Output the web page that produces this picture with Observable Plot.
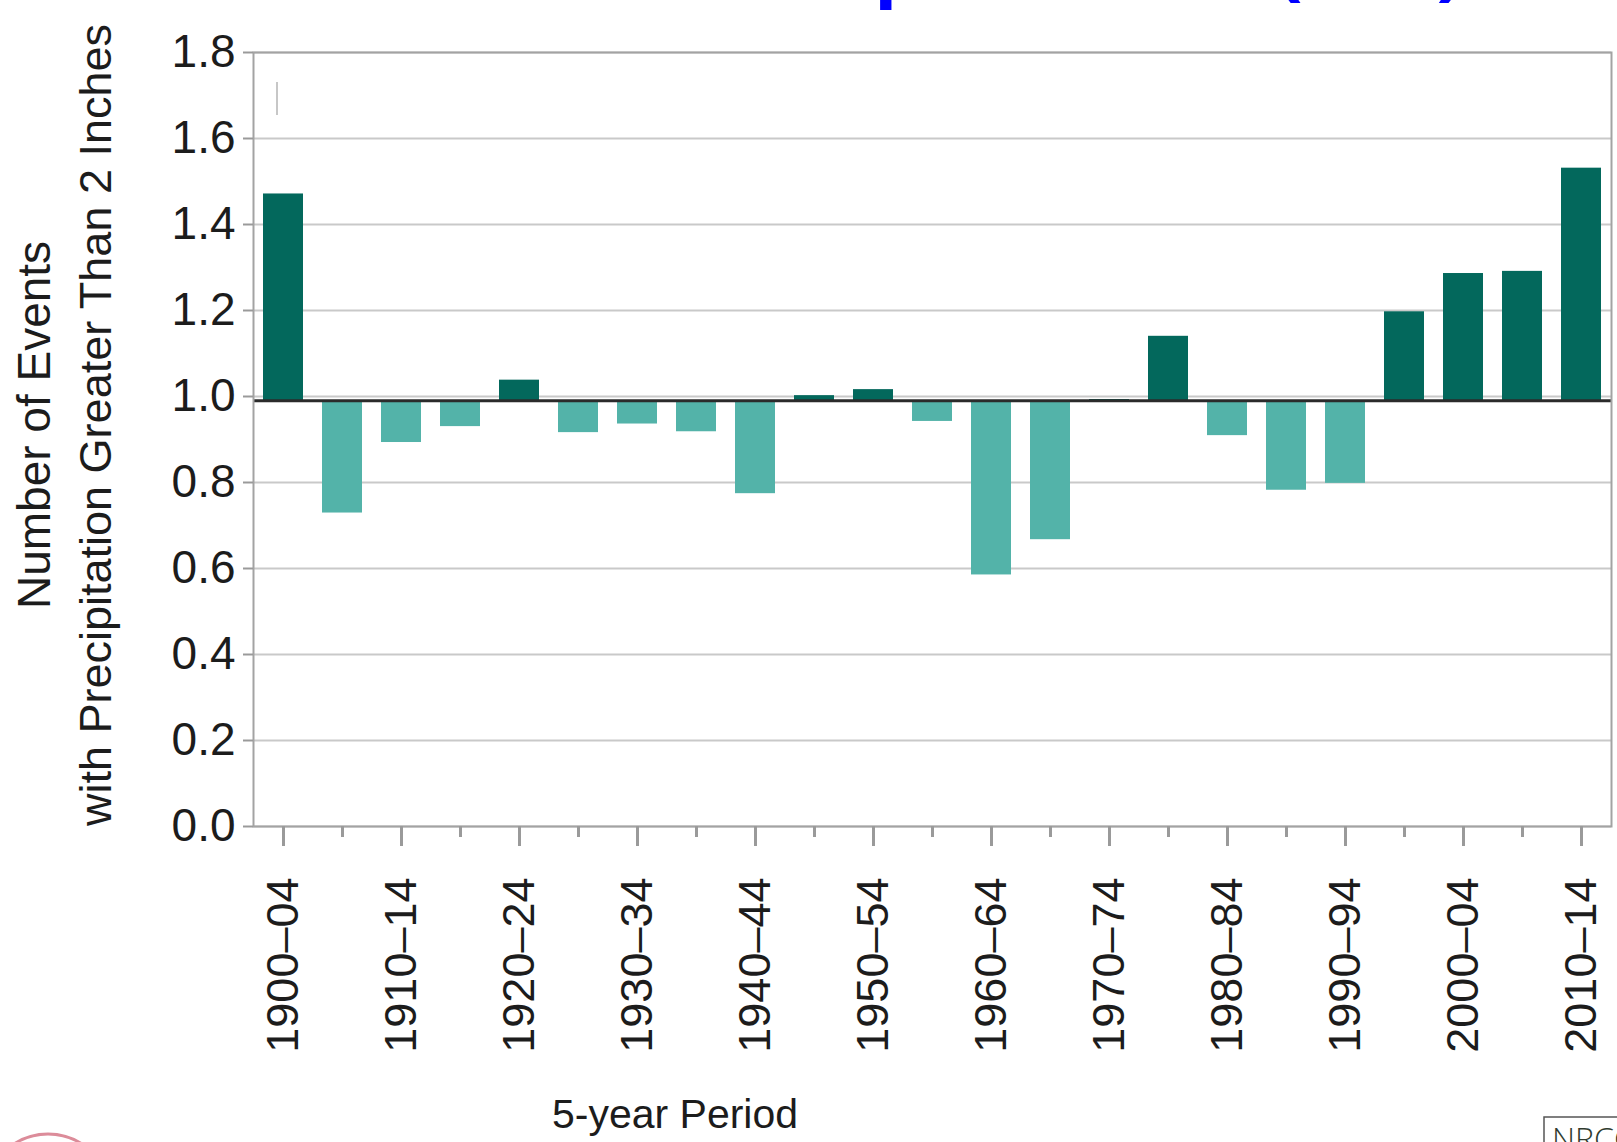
<!DOCTYPE html>
<html>
<head>
<meta charset="utf-8">
<script src="https://cdn.jsdelivr.net/npm/d3@7"></script>
<script src="https://cdn.jsdelivr.net/npm/@observablehq/plot@0.6"></script>
<style>
  html, body { margin: 0; padding: 0; background: #fff; overflow: hidden; }
  #chart { position: relative; width: 1617px; height: 1142px; }
  #chart svg { display: block; }
</style>
</head>
<body>
<div id="chart"></div>
<script>
// ---- data ----
const periods = ["1900–04","1905–09","1910–14","1915–19","1920–24","1925–29","1930–34","1935–39",
  "1940–44","1945–49","1950–54","1955–59","1960–64","1965–69","1970–74","1975–79",
  "1980–84","1985–89","1990–94","1995–99","2000–04","2005–09","2010–14"];
const values = [1.471,0.729,0.893,0.930,1.038,0.916,0.936,0.918,
  0.774,1.002,1.016,0.942,0.585,0.667,0.993,1.140,
  0.909,0.782,0.798,1.197,1.286,1.291,1.531];
const baseline = 0.99;
const yTicks = [0,0.2,0.4,0.6,0.8,1.0,1.2,1.4,1.6,1.8];
const labeledPeriods = periods.filter((d,i)=>i%2===0);
const minorPeriods = periods.filter((d,i)=>i%2===1);
const titleText = "Extreme Precipitation (NE)";
const yTitle1 = "Number of Events";
const yTitle2 = "with Precipitation Greater Than 2 Inches";
const xTitle = "5-year Period";
const boxText = "NRCC";

const dark = "#03685c", light = "#53b3a9";
const data = periods.map((p,i)=>({period:p, value:values[i], kind: values[i] >= baseline ? "above" : "below"}));

const font = "'Liberation Sans', Arial, Helvetica, sans-serif";

const svgEl = Plot.plot({
  width: 1617, height: 1142,
  marginLeft: 253, marginRight: 6, marginTop: 52, marginBottom: 316,
  style: {fontFamily: font, fontSize: "45px", color: "#1c1c1c", background: "white"},
  x: {domain: periods, paddingInner: 0.324, paddingOuter: 0.162},
  y: {domain: [0, 1.8]},
  color: {domain: ["above","below"], range: [dark, light]},
  marks: [
    Plot.gridY(yTicks, {stroke: "#c9c9c9", strokeOpacity: 1, strokeWidth: 2}),
    Plot.barY(data, {x: "period", y1: baseline, y2: "value", fill: "kind"}),
    Plot.ruleY([baseline], {stroke: "#2b2b2b", strokeWidth: 3}),
    Plot.frame({stroke: "#a3a3a3", strokeWidth: 2}),
    Plot.axisY(yTicks, {tickSize: 10, tickPadding: 8, tickFormat: d => d.toFixed(1), stroke: "#9a9a9a", strokeWidth: 2, label: null, fontSize: 46}),
    Plot.axisX(minorPeriods, {tickSize: 11, tickFormat: () => "", stroke: "#9a9a9a", strokeWidth: 3, label: null}),
    Plot.axisX(labeledPeriods, {tickSize: 20, tickPadding: 31, tickRotate: -90, stroke: "#9a9a9a", strokeWidth: 3, label: null, fontSize: 45})
  ]
});
document.getElementById("chart").appendChild(svgEl);
const svg = d3.select(svgEl);

// y-axis title (two lines)
svg.append("text").attr("transform", "translate(34,425) rotate(-90)")
  .attr("text-anchor", "middle").attr("dy", "0.35em")
  .attr("font-family", font).attr("font-size", 46).attr("fill", "#1c1c1c").text(yTitle1);
svg.append("text").attr("transform", "translate(95,425) rotate(-90)")
  .attr("text-anchor", "middle").attr("dy", "0.35em")
  .attr("font-family", font).attr("font-size", 45).attr("fill", "#1c1c1c").text(yTitle2);

// x-axis title
svg.append("text").attr("x", 675).attr("y", 1128).attr("text-anchor", "middle")
  .attr("font-family", font).attr("font-size", 41).attr("fill", "#1c1c1c").text(xTitle);

// blue title (mostly cut off above the top edge, as in the reference)
const t = svg.append("text").attr("fill", "#0000ff").attr("text-anchor", "start")
  .attr("font-family", "'Open Sans', sans-serif").attr("font-weight", 600)
  .attr("font-size", 100).attr("x", 0).attr("y", 0).text(titleText);
const tn = t.node();
const iP = titleText.indexOf("p"), iParen = titleText.indexOf("(");
const p0 = tn.getStartPositionOfChar(iP).x, q0 = tn.getStartPositionOfChar(iParen).x;
const S = 409 / ((q0 - p0) / 100 + 0.09);
t.attr("font-size", S);
const p1 = tn.getStartPositionOfChar(iP).x;
t.attr("x", 880 - 0.08 * S - p1).attr("y", 11 - 0.24 * S);

// small mark near top-left of plot area
svg.append("line").attr("x1", 277).attr("x2", 277).attr("y1", 82).attr("y2", 115)
  .attr("stroke", "#b5b5b5").attr("stroke-width", 1.5);

// NRCC box (cut off at bottom-right)
svg.append("rect").attr("x", 1544).attr("y", 1117).attr("width", 120).attr("height", 60)
  .attr("fill", "white").attr("stroke", "#555").attr("stroke-width", 1.5);
svg.append("text").attr("x", 1552).attr("y", 1150).attr("text-anchor", "start")
  .attr("font-family", "'Open Sans', sans-serif").attr("font-weight", 300)
  .attr("font-size", 32).attr("fill", "#2f3b2f").text(boxText);

// red seal (cut off at bottom-left)
svg.append("circle").attr("cx", 48).attr("cy", 1196).attr("r", 62)
  .attr("fill", "none").attr("stroke", "#dc8c9a").attr("stroke-width", 3);
</script>
</body>
</html>
